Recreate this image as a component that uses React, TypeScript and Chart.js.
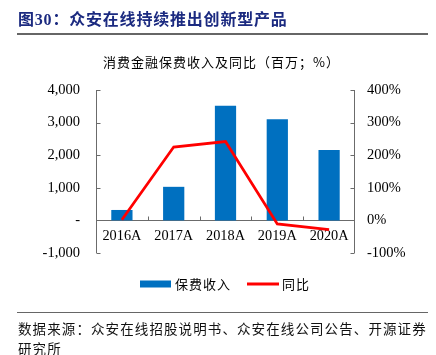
import React, { useEffect, useRef } from "react";
import { Chart, registerables } from "chart.js";

Chart.register(...registerables);

const categories = ["2016A", "2017A", "2018A", "2019A", "2020A"];
const premiumIncome = [320, 1030, 3520, 3100, 2160];
const yoyGrowth = [2, 225, 242, -11, -28];
const leftTicks = { min: -1000, max: 4000, step: 1000 };
const rightTicks = { min: -100, max: 400, step: 100 };

const TITLE = "图30：众安在线持续推出创新型产品";
const SUBTITLE = "消费金融保费收入及同比（百万；%）";
const LEGEND_BAR = "保费收入";
const LEGEND_LINE = "同比";
const SOURCE1 = "数据来源：众安在线招股说明书、众安在线公司公告、开源证券";
const SOURCE2 = "研究所";

const BLUE = "#0070C0";
const RED = "#FF0000";
const SERIF = "'Liberation Serif', 'Times New Roman', serif";
const CJK = "'Noto Sans CJK SC', sans-serif";

const decorPlugin = {
  id: "decor",
  beforeDatasetsDraw(chart: any) {
    const { ctx, chartArea } = chart;
    const y = chart.scales.y;
    const y1 = chart.scales.y1;
    const x = chart.scales.x;
    ctx.save();
    ctx.strokeStyle = "#6b6b6b";
    ctx.lineWidth = 1;
    const L = Math.round(chartArea.left) + 0.5;
    const R = Math.round(chartArea.right) - 0.5;
    // left axis
    ctx.beginPath();
    ctx.moveTo(L, chartArea.top);
    ctx.lineTo(L, chartArea.bottom);
    y.ticks.forEach((t: any) => {
      const py = Math.round(y.getPixelForValue(t.value)) + 0.5;
      ctx.moveTo(L, py);
      ctx.lineTo(L + 4, py);
    });
    // right axis
    ctx.moveTo(R, chartArea.top);
    ctx.lineTo(R, chartArea.bottom);
    y1.ticks.forEach((t: any) => {
      const py = Math.round(y1.getPixelForValue(t.value)) + 0.5;
      ctx.moveTo(R, py);
      ctx.lineTo(R - 4, py);
    });
    // zero line
    const zy = Math.round(y.getPixelForValue(0)) + 0.5;
    ctx.moveTo(L, zy);
    ctx.lineTo(R, zy);
    for (let i = 0; i < categories.length - 1; i++) {
      const bx = Math.round((x.getPixelForValue(i) + x.getPixelForValue(i + 1)) / 2) + 0.5;
      ctx.moveTo(bx, zy);
      ctx.lineTo(bx, zy - 4);
    }
    ctx.stroke();
    ctx.restore();
  },
  afterDraw(chart: any) {
    const { ctx } = chart;
    ctx.save();
    // title
    ctx.textBaseline = "middle";
    ctx.textAlign = "left";
    ctx.fillStyle = "#1B2A80";
    ctx.font = `bold 16px ${SERIF.replace("serif", "")} ${CJK}`;
    (ctx as any).letterSpacing = "0.8px";
    ctx.fillText(TITLE, 18, 21);
    ctx.strokeStyle = "#333";
    ctx.lineWidth = 1.5;
    ctx.beginPath();
    ctx.moveTo(17, 34);
    ctx.lineTo(428, 34);
    ctx.stroke();
    // subtitle
    ctx.fillStyle = "#000";
    ctx.font = `13px ${CJK}`;
    (ctx as any).letterSpacing = "1px";
    ctx.fillText(SUBTITLE, 103, 62);
    // legend
    ctx.fillStyle = BLUE;
    ctx.fillRect(140, 280.5, 31, 7);
    ctx.fillStyle = "#000";
    ctx.fillText(LEGEND_BAR, 175, 284);
    ctx.strokeStyle = RED;
    ctx.lineWidth = 3;
    ctx.beginPath();
    ctx.moveTo(247, 284);
    ctx.lineTo(279, 284);
    ctx.stroke();
    ctx.fillStyle = "#000";
    ctx.fillText(LEGEND_LINE, 282, 284);
    // footer
    ctx.strokeStyle = "#666";
    ctx.lineWidth = 1.2;
    ctx.beginPath();
    ctx.moveTo(17, 312.5);
    ctx.lineTo(428, 312.5);
    ctx.stroke();
    ctx.fillStyle = "#111";
    ctx.font = `13.5px ${CJK}`;
    (ctx as any).letterSpacing = "1.1px";
    ctx.fillText(SOURCE1, 18, 329);
    ctx.fillText(SOURCE2, 18, 349);
    ctx.restore();
  },
};

export default function App() {
  const ref = useRef<HTMLCanvasElement>(null);
  useEffect(() => {
    if (!ref.current) return;
    const chart = new Chart(ref.current, {
      type: "bar",
      data: {
        labels: categories,
        datasets: [
          {
            type: "line",
            label: LEGEND_LINE,
            data: yoyGrowth,
            yAxisID: "y1",
            borderColor: RED,
            backgroundColor: RED,
            borderWidth: 2.75,
            pointRadius: 0,
            tension: 0,
            order: 0,
          } as any,
          {
            type: "bar",
            label: LEGEND_BAR,
            data: premiumIncome,
            yAxisID: "y",
            backgroundColor: BLUE,
            barPercentage: 0.41,
            categoryPercentage: 1,
            order: 1,
          },
        ],
      },
      options: {
        responsive: false,
        animation: false,
        devicePixelRatio: 1,
        layout: { padding: { top: 90, bottom: 102, left: 0, right: 0 } },
        plugins: { legend: { display: false }, tooltip: { enabled: false } },
        scales: {
          x: {
            position: { y: 0 } as any,
            grid: { display: false, drawTicks: false },
            border: { display: false },
            ticks: {
              color: "#000",
              padding: 7,
              font: { family: SERIF, size: 14.3 },
              maxRotation: 0,
            },
          },
          y: {
            position: "left",
            min: leftTicks.min,
            max: leftTicks.max,
            grid: { display: false, drawTicks: false },
            border: { display: false },
            afterFit: (s: any) => {
              s.width = 96;
            },
            ticks: {
              stepSize: leftTicks.step,
              color: "#000",
              padding: 16,
              font: { family: SERIF, size: 14.5 },
              callback: (v: any) => (Number(v) === 0 ? "-" : Number(v).toLocaleString("en-US")),
            },
          },
          y1: {
            position: "right",
            min: rightTicks.min,
            max: rightTicks.max,
            grid: { display: false, drawTicks: false },
            border: { display: false },
            afterFit: (s: any) => {
              s.width = 81;
            },
            ticks: {
              stepSize: rightTicks.step,
              color: "#000",
              padding: 12,
              font: { family: SERIF, size: 14.5 },
              callback: (v: any) => `${v}%`,
            },
          },
        },
      },
      plugins: [decorPlugin],
    });
    return () => chart.destroy();
  }, []);
  return (
    <div style={{ position: "fixed", left: 0, top: 0, width: 436, height: 355, background: "#fff" }}>
      <canvas ref={ref} width={436} height={355} style={{ width: 436, height: 355, display: "block" }} />
    </div>
  );
}
